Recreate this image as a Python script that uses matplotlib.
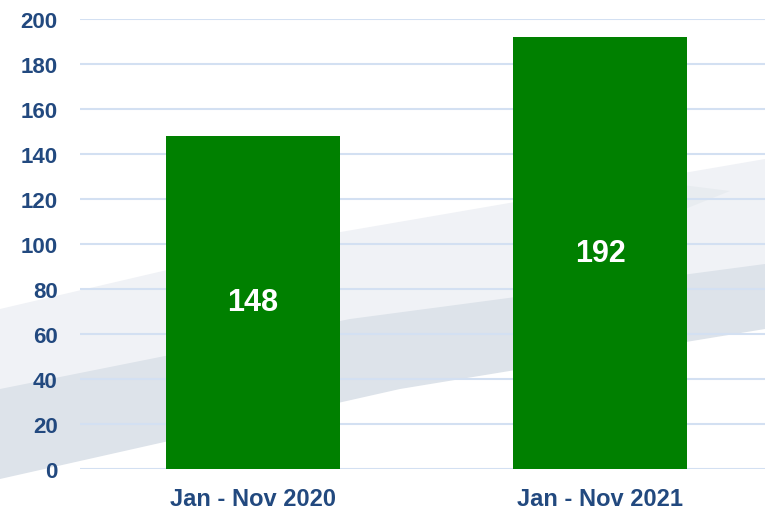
import matplotlib.pyplot as plt
from matplotlib.patches import Polygon

# Дані
categories = ['Jan - Nov 2020', 'Jan - Nov 2021']
values = [148, 192]
yticks = [0, 20, 40, 60, 80, 100, 120, 140, 160, 180, 200]

label_color = '#22497f'
bar_color = '#008000'

plt.rcParams['font.family'] = ['Liberation Sans', 'DejaVu Sans']

fig = plt.figure(figsize=(7.65, 5.10), dpi=100)
fig.patch.set_facecolor('white')

# Фонова "хвиля" (декоративна), в окремих осях позаду
bg = fig.add_axes([0, 0, 1, 1], zorder=0)
bg.set_xlim(0, 765)
bg.set_ylim(510, 0)
bg.axis('off')
bg.add_patch(Polygon([(0, 310), (300, 240), (765, 160), (765, 270), (400, 330), (0, 410)],
                     facecolor='#f0f2f6', edgecolor='none'))
bg.add_patch(Polygon([(0, 390), (350, 320), (765, 265), (765, 330), (400, 390), (0, 480)],
                     facecolor='#dde3ea', edgecolor='none'))
bg.add_patch(Polygon([(550, 190), (650, 182), (730, 192), (680, 212), (550, 222)],
                     facecolor='#e8ecf0', edgecolor='none'))

ax = fig.add_axes([80 / 765, 1 - 470 / 510, 1 - 80 / 765, 450 / 510], zorder=1)
ax.set_facecolor('none')

x = range(len(categories))
bars = ax.bar(x, values, width=0.5, color=bar_color, zorder=3)

for b, v in zip(bars, values):
    ax.text(b.get_x() + b.get_width() / 2, v / 2, str(v), ha='center', va='center',
            color='white', fontsize=22, fontweight='bold', zorder=4)

ax.set_ylim(0, 200)
ax.set_xlim(-0.4986, 1.4755)
ax.set_yticks(yticks)
ax.set_xticks(list(x))
ax.set_xticklabels(categories)
ax.tick_params(axis='both', length=0, labelcolor=label_color)
ax.tick_params(axis='y', pad=16, labelsize=16)
ax.tick_params(axis='x', pad=13, labelsize=17)
for lbl in ax.get_xticklabels() + ax.get_yticklabels():
    lbl.set_fontweight('bold')

ax.grid(axis='y', color='#d3e0f2', linewidth=1.5, zorder=1)
ax.set_axisbelow(True)
for s in ax.spines.values():
    s.set_visible(False)

fig.savefig('out.png', dpi=100)
